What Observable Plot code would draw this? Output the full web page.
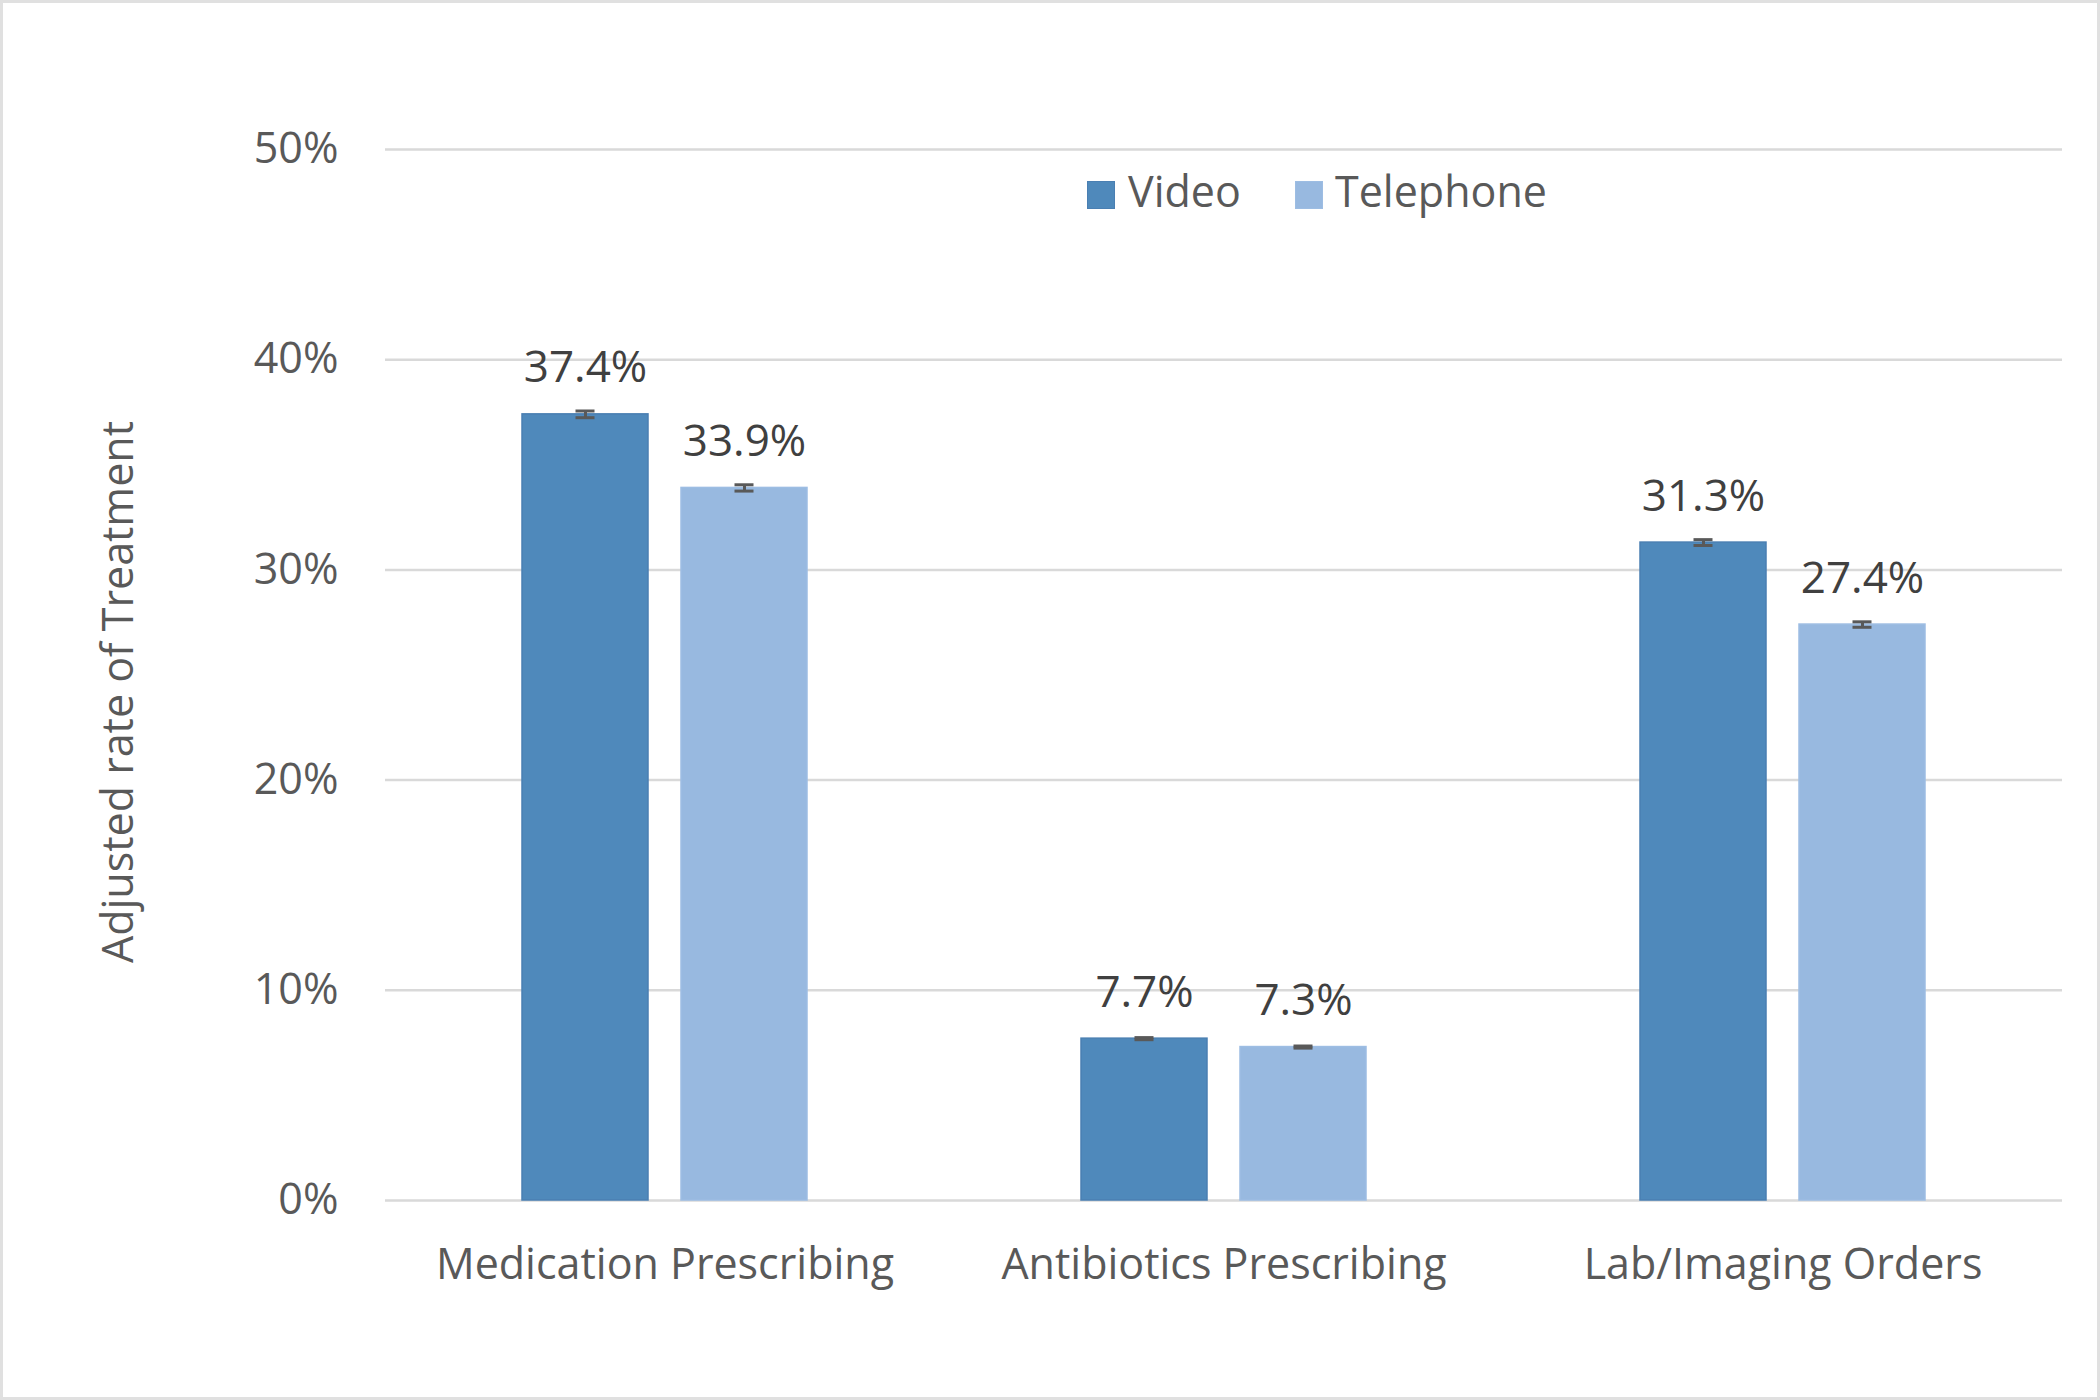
<!DOCTYPE html>
<html>
<head>
<meta charset="utf-8">
<script src="https://cdn.jsdelivr.net/npm/d3@7"></script>
<script src="https://cdn.jsdelivr.net/npm/@observablehq/plot@0.6"></script>
<style>
  html, body { margin: 0; padding: 0; background: #fff; }
  #wrap { position: relative; width: 2100px; height: 1400px; overflow: hidden; font-family: "Open Sans", "Noto Sans", sans-serif; }
  #frame { position: absolute; left: 0; top: 0; width: 2100px; height: 1400px; box-sizing: border-box; border: 3px solid #e0e0e0; pointer-events: none; }
  .leg-sw { position: absolute; width: 28px; height: 28px; box-sizing: border-box; }
  .leg-tx { position: absolute; font-size: 43px; line-height: 43px; color: #595959; white-space: nowrap; }
</style>
</head>
<body>
<div id="wrap">
  <div id="chart"></div>
  <div id="legend"></div>
  <div id="frame"></div>
</div>
<script>
// ---- Data ----
const categories = ["Medication Prescribing", "Antibiotics Prescribing", "Lab/Imaging Orders"];
const seriesNames = ["Video", "Telephone"];
const videoValues = [37.4, 7.7, 31.3];
const telephoneValues = [33.9, 7.3, 27.4];
const videoErrors = [0.16, 0.05, 0.14];
const telephoneErrors = [0.15, 0.05, 0.13];
const yTicks = [0, 10, 20, 30, 40, 50];
const seriesColors = ["#4F89BB", "#98B9E0"];
const seriesStrokes = ["#4A7FB2", "#9DBDE3"];
const yLabel = "Adjusted rate of Treatment";

const rows = [];
categories.forEach((c, i) => {
  rows.push({category: c, series: seriesNames[0], value: videoValues[i], err: videoErrors[i]});
  rows.push({category: c, series: seriesNames[1], value: telephoneValues[i], err: telephoneErrors[i]});
});

const font = "'Open Sans', 'Noto Sans', sans-serif";

const plot = Plot.plot({
  width: 2100,
  height: 1400,
  marginTop: 149,
  marginBottom: 200,
  marginLeft: 384,
  marginRight: 37,
  style: {fontFamily: font, background: "transparent", overflow: "visible"},
  fx: {domain: categories, padding: 0, label: null, axis: null},
  x: {domain: seriesNames, paddingInner: 0.209, paddingOuter: 0.852, axis: null},
  y: {domain: [0, 50], axis: null},
  color: {domain: seriesNames, range: seriesColors},
  marks: [
    Plot.gridY(yTicks, {stroke: "#d9d9d9", strokeOpacity: 1, strokeWidth: 2.5}),
    Plot.barY(rows, {fx: "category", x: "series", y: "value", fill: "series",
      stroke: d => seriesStrokes[seriesNames.indexOf(d.series)], strokeWidth: 1.5}),
    Plot.ruleX(rows, {fx: "category", x: "series", y1: d => d.value - d.err, y2: d => d.value + d.err,
      stroke: "#595959", strokeWidth: 3}),
    Plot.tickY(rows, {fx: "category", x: "series", y: d => d.value + d.err, stroke: "#595959", strokeWidth: 3, insetLeft: 53.5, insetRight: 53.5}),
    Plot.tickY(rows, {fx: "category", x: "series", y: d => d.value - d.err, stroke: "#595959", strokeWidth: 3, insetLeft: 53.5, insetRight: 53.5}),
    Plot.text(rows, {fx: "category", x: "series", y: "value", text: d => d.value.toFixed(1) + "%",
      lineAnchor: "bottom", dy: -32, fontSize: 44, fill: "#404040"}),
    Plot.axisY({ticks: yTicks, tickFormat: d => d + "%", tickSize: 0, tickPadding: 47,
      fontSize: 43, color: "#595959", label: null}),
    Plot.axisFx({anchor: "bottom", tickSize: 0, tickPadding: 48, fontSize: 43, color: "#595959", label: null}),
    Plot.text([yLabel], {frameAnchor: "left", rotate: -90, dx: -266, dy: 17, fontSize: 43,
      fill: "#595959", textAnchor: "middle", lineAnchor: "middle", facetAnchor: "left"})
  ]
});
document.getElementById("chart").appendChild(plot);

// ---- Legend (HTML) ----
const legend = document.getElementById("legend");
const legPos = [{sw: 1087, tx: 1128}, {sw: 1295, tx: 1335}];
seriesNames.forEach((name, i) => {
  const sw = document.createElement("div");
  sw.className = "leg-sw";
  sw.style.left = legPos[i].sw + "px";
  sw.style.top = "181px";
  sw.style.background = seriesColors[i];
  sw.style.border = "1px solid " + seriesStrokes[i];
  legend.appendChild(sw);
  const tx = document.createElement("div");
  tx.className = "leg-tx";
  tx.style.left = legPos[i].tx + "px";
  tx.style.top = "169px";
  tx.textContent = name;
  legend.appendChild(tx);
});
</script>
</body>
</html>
